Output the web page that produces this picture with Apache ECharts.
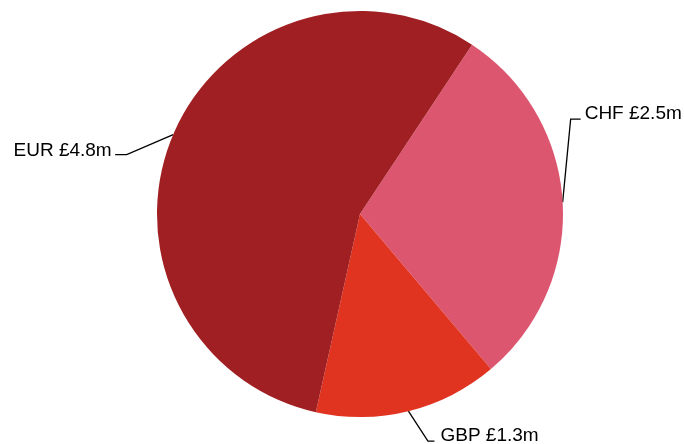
<!DOCTYPE html>
<html>
<head>
<meta charset="utf-8">
<script src="https://cdn.jsdelivr.net/npm/echarts@6/dist/echarts.min.js"></script>
<style>
  html, body { margin: 0; padding: 0; background: #fff; }
  #chart { width: 684px; height: 444px; }
</style>
</head>
<body>
<div id="chart"></div>
<script>
// Data
var categories = ['CHF', 'GBP', 'EUR'];
var values = [2.54, 1.26, 4.8];   // £ millions

// Styling (not data)
var colors = ['#dc5670', '#e03320', '#a01f22'];
// label leader-line offsets relative to the slice edge point: [elbowDx, elbowDy, endDx, textDx, textDy, align]
var labelOffsets = [
  [8, -83, 18, 22, -88, 'left'],
  [19.5, 30, 26, 32, 25, 'left'],
  [-46.5, 20, -58, -61.5, 16, 'right']
];

var chart = echarts.init(document.getElementById('chart'), null, { renderer: 'canvas' });
var seriesData = categories.map(function (c, i) {
  return { name: c, value: values[i], itemStyle: { color: colors[i] } };
});

chart.setOption({
  animation: false,
  backgroundColor: '#ffffff',
  series: [{
    type: 'pie',
    center: [360, 214],
    radius: 203,
    startAngle: 56.5,
    clockwise: true,
    avoidLabelOverlap: false,
    data: seriesData,
    itemStyle: { borderWidth: 0 },
    label: {
      show: true,
      position: 'outside',
      fontFamily: 'Liberation Sans, Arial, sans-serif',
      fontSize: 19,
      color: '#000',
      formatter: function (p) { return p.name + ' £' + p.value.toFixed(1) + 'm'; }
    },
    labelLine: {
      show: true,
      length: 20,
      length2: 10,
      lineStyle: { color: '#000', width: 1.3 }
    },
    labelLayout: function (params) {
      var o = labelOffsets[params.dataIndex];
      var p0 = params.labelLinePoints[0];
      return {
        x: p0[0] + o[3],
        y: p0[1] + o[4],
        align: o[5],
        verticalAlign: 'middle',
        labelLinePoints: [
          [p0[0], p0[1]],
          [p0[0] + o[0], p0[1] + o[1]],
          [p0[0] + o[2], p0[1] + o[1]]
        ]
      };
    }
  }]
});
</script>
</body>
</html>
